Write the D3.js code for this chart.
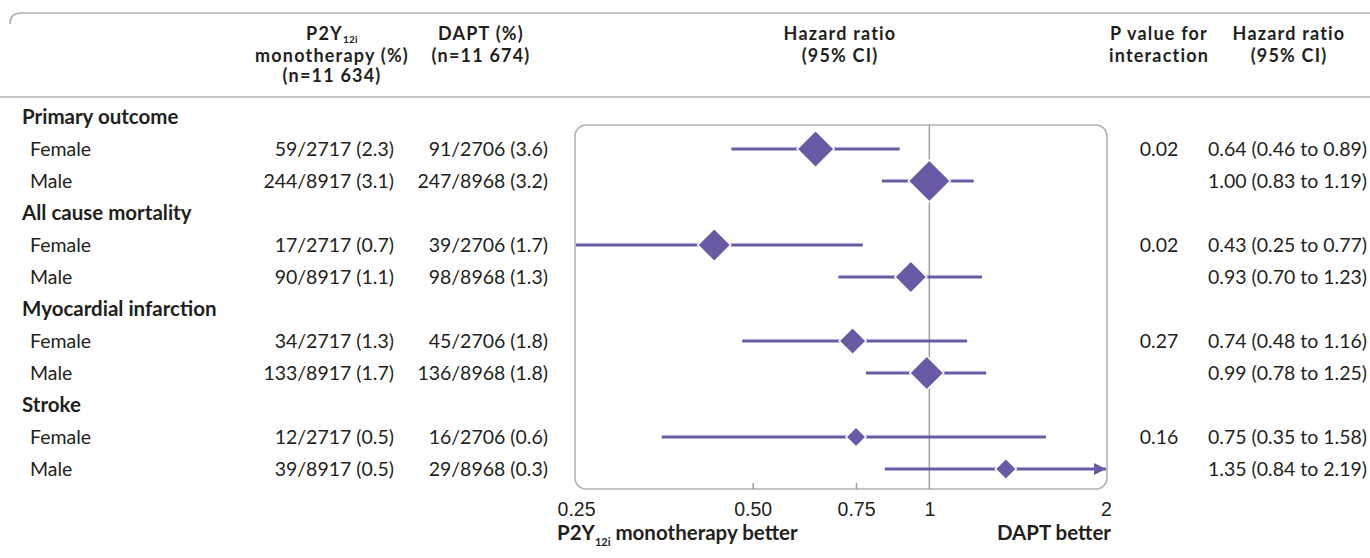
<!DOCTYPE html>
<html><head><meta charset="utf-8">
<script src="https://cdn.jsdelivr.net/npm/d3@7/dist/d3.min.js"></script>
<style>
html,body{margin:0;padding:0;background:#fff;}
svg{display:block;font-family:Lato,"Noto Sans",sans-serif;}
</style></head>
<body>
<svg id="c" width="1370" height="558"></svg>
<script>
const outcomes = ["Primary outcome","All cause mortality","Myocardial infarction","Stroke"];
const subgroups = ["Female","Male"];
const p2yEvents = [59,244,17,90,34,133,12,39];
const p2yN      = [2717,8917,2717,8917,2717,8917,2717,8917];
const p2yPct    = [2.3,3.1,0.7,1.1,1.3,1.7,0.5,0.5];
const daptEvents= [91,247,39,98,45,136,16,29];
const daptN     = [2706,8968,2706,8968,2706,8968,2706,8968];
const daptPct   = [3.6,3.2,1.7,1.3,1.8,1.8,0.6,0.3];
const hr        = [0.64,1.00,0.43,0.93,0.74,0.99,0.75,1.35];
const ciLow     = [0.46,0.83,0.25,0.70,0.48,0.78,0.35,0.84];
const ciHigh    = [0.89,1.19,0.77,1.23,1.16,1.25,1.58,2.19];
const weight    = [18.5,21,16.5,16,13.5,17,10,10.5];
const pInteraction = ["0.02","0.02","0.27","0.16"];
const xTicks = [0.25,0.5,0.75,1,2];

const svg = d3.select("#c");
const ink = "#231f20", purple = "#6a5aa6", grey = "#b0b0b0";
const fs = 19.5, fb = 20.5, fh = 18;

// layout
const rowY0 = 117, rowStep = 32;
const x = d3.scaleLog().base(2).domain([0.25,2]).range([576,1106]);
const boxTop = 125, boxBot = 489, boxL = 575, boxR = 1107;

// header lines
svg.append("path").attr("d","M10,24 Q10,13 21,13 L1370,13").attr("fill","none").attr("stroke",grey).attr("stroke-width",1.6);
svg.append("line").attr("x1",0).attr("x2",1370).attr("y1",97).attr("y2",97).attr("stroke",grey).attr("stroke-width",1.6);

const hdrBase = [40, 62, 82];
function hdr(lines, cx){
  lines.forEach((l,i)=>{
    const t = svg.append("text").attr("x",cx).attr("y",hdrBase[i]).attr("text-anchor","middle")
      .attr("font-size",fh).attr("font-weight","bold").attr("letter-spacing",1.2).attr("fill",ink);
    if(Array.isArray(l)){
      t.append("tspan").text(l[0]);
      t.append("tspan").attr("font-size",10).attr("letter-spacing",0.3).attr("dy",3).text(l[1]);
    } else t.text(l);
  });
}
hdr([["P2Y","12i"],"monotherapy (%)","(n=11 634)"],332);
hdr(["DAPT (%)","(n=11 674)"],481);
hdr(["Hazard ratio","(95% CI)"],840);
hdr(["P value for","interaction"],1159);
hdr(["Hazard ratio","(95% CI)"],1289);

// rows
const rows = [];
outcomes.forEach((o,oi)=>{
  rows.push({type:"h", label:o, y: rowY0 + rowStep*(oi*3)});
  subgroups.forEach((s,si)=>{
    const k = oi*2+si;
    rows.push({type:"s", label:s, k, y: rowY0 + rowStep*(oi*3+1+si), p: si===0 ? pInteraction[oi] : ""});
  });
});

const fmt1 = d3.format(".1f"), fmt2 = d3.format(".2f");

// box
svg.append("rect").attr("x",boxL).attr("y",boxTop).attr("width",boxR-boxL).attr("height",boxBot-boxTop)
  .attr("rx",11).attr("fill","none").attr("stroke",grey).attr("stroke-width",1.5);
svg.append("line").attr("x1",x(1)).attr("x2",x(1)).attr("y1",boxTop).attr("y2",boxBot).attr("stroke","#a0a0a0").attr("stroke-width",1.5);

// ticks inside box
const tickAxis = d3.axisTop(x).tickValues([0.5,0.75]).tickSize(6).tickFormat("");
const tg = svg.append("g").attr("transform",`translate(0,${boxBot})`).call(tickAxis);
tg.select(".domain").remove();
tg.selectAll("line").attr("stroke","#a0a0a0").attr("stroke-width",1.5);

// tick labels
const labAxis = d3.axisBottom(x).tickValues(xTicks).tickSize(0).tickPadding(13).tickFormat(d=> d<1 ? fmt2(d) : d3.format("d")(d));
const lg = svg.append("g").attr("transform",`translate(0,${boxBot})`).call(labAxis);
lg.select(".domain").remove();
lg.selectAll("text").attr("font-size",fs).attr("fill",ink).attr("font-family",null);

// better labels
const bl = svg.append("text").attr("x",557).attr("y",540).attr("font-size",fb).attr("font-weight","bold").attr("fill",ink);
bl.append("tspan").text("P2Y");
bl.append("tspan").attr("font-size",11).attr("dy",6).text("12i");
bl.append("tspan").attr("dy",-6).text(" monotherapy better");
svg.append("text").attr("x",1111).attr("y",540).attr("text-anchor","end").attr("font-size",fb).attr("font-weight","bold").attr("fill",ink).text("DAPT better");

// arrow marker
svg.append("defs").append("marker").attr("id","arr").attr("viewBox","0 0 10 10").attr("refX",10).attr("refY",5)
  .attr("markerWidth",4).attr("markerHeight",4).attr("markerUnits","strokeWidth").attr("orient","auto")
  .append("path").attr("d","M0,0 L10,5 L0,10 Z").attr("fill",purple);

rows.forEach(r=>{
  const base = r.y + 7;
  if(r.type==="h"){
    svg.append("text").attr("x",22).attr("y",base).attr("font-size",fb).attr("font-weight","bold").attr("fill",ink).text(r.label);
    return;
  }
  const k = r.k;
  svg.append("text").attr("x",30).attr("y",base).attr("font-size",fs).attr("fill",ink).text(r.label);
  svg.append("text").attr("x",394).attr("y",base).attr("text-anchor","end").attr("font-size",fs).attr("fill",ink)
    .text(`${p2yEvents[k]}/${p2yN[k]} (${fmt1(p2yPct[k])})`);
  svg.append("text").attr("x",548).attr("y",base).attr("text-anchor","end").attr("font-size",fs).attr("fill",ink)
    .text(`${daptEvents[k]}/${daptN[k]} (${fmt1(daptPct[k])})`);
  if(r.p) svg.append("text").attr("x",1159).attr("y",base).attr("text-anchor","middle").attr("font-size",fs).attr("fill",ink).text(r.p);
  svg.append("text").attr("x",1367).attr("y",base).attr("text-anchor","end").attr("font-size",fs).attr("fill",ink)
    .text(`${fmt2(hr[k])} (${fmt2(ciLow[k])} to ${fmt2(ciHigh[k])})`);
  // CI line
  const clipped = ciHigh[k] > 2;
  const x2 = clipped ? x(2) : x(ciHigh[k]);
  svg.append("line").attr("x1",x(Math.max(ciLow[k],0.25))).attr("x2",x2).attr("y1",r.y).attr("y2",r.y)
    .attr("stroke",purple).attr("stroke-width",3).attr("marker-end",clipped?"url(#arr)":null);
  // diamond
  const cx = x(hr[k]), h = weight[k];
  svg.append("path").attr("d",`M${cx},${r.y-h} L${cx+h},${r.y} L${cx},${r.y+h} L${cx-h},${r.y} Z`)
    .attr("fill",purple).attr("stroke","#fff").attr("stroke-width",1.5);
});
</script>
</body></html>
